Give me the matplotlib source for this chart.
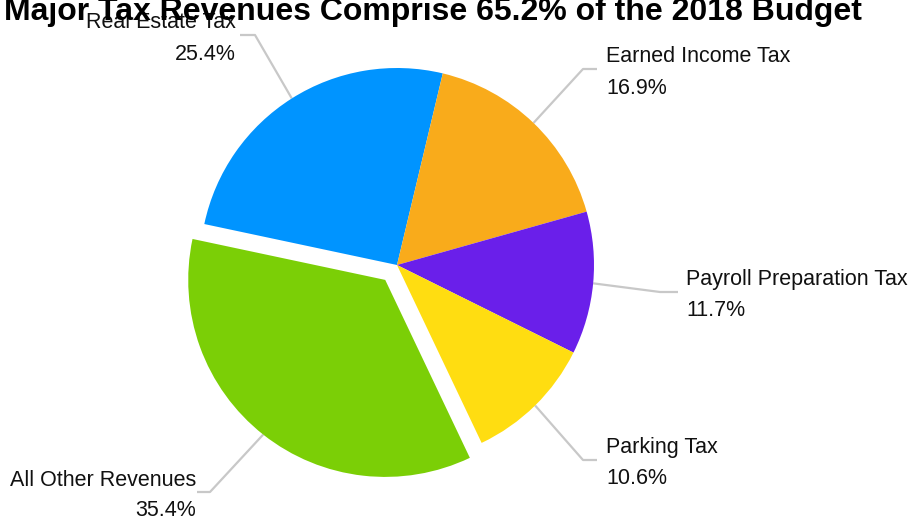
import numpy as np
import matplotlib.pyplot as plt

plt.rcParams['font.family'] = ['Liberation Sans', 'DejaVu Sans']

# 2018 budget revenue shares (%)
labels = ['Real Estate Tax', 'Earned Income Tax', 'Payroll Preparation Tax',
          'Parking Tax', 'All Other Revenues']
shares = [25.4, 16.9, 11.7, 10.6, 35.4]
colors = ['#0094ff', '#f9ab1b', '#6a1fea', '#ffdd11', '#7bcf06']

W, H = 914, 520
R = 197
# explode is an absolute offset in data units (pixels here)
explode = [0, 0, 0, 0, 19]

fig = plt.figure(figsize=(W / 100, H / 100), dpi=100)
ax = fig.add_axes([0, 0, 1, 1])

wedges, _ = ax.pie(shares, colors=colors, explode=explode, startangle=168,
                   counterclock=False, center=(397, H - 265), radius=R,
                   wedgeprops=dict(linewidth=0))
ax.set_xlim(0, W)
ax.set_ylim(0, H)
ax.set_aspect('equal')
ax.axis('off')

# leader elbow / end points and text anchor (pixel coords, y from top)
leaders = [
    ((255, 35), (240, 35), 236, 'right'),
    ((583, 69), (597, 69), 606, 'left'),
    ((660, 292), (678, 292), 686, 'left'),
    ((583, 460), (597, 460), 606, 'left'),
    ((210, 492), (197, 492), 196, 'right'),
]

for w, lab, val, (elbow, end, tx, ha) in zip(wedges, labels, shares, leaders):
    ang = np.deg2rad((w.theta1 + w.theta2) / 2)
    cx, cy = w.center
    sx, sy = cx + w.r * np.cos(ang), cy + w.r * np.sin(ang)
    ax.plot([sx, elbow[0], end[0]], [sy, H - elbow[1], H - end[1]],
            color='#c8c8c8', lw=1.6, solid_capstyle='butt', zorder=0)
    ty = H - end[1]
    ax.text(tx, ty + 12, lab, ha=ha, va='center', fontsize=15.5, color='#111111')
    ax.text(tx, ty - 19, f'{val}%', ha=ha, va='center', fontsize=15.5, color='#111111')

ax.text(433, H - 20, 'Major Tax Revenues Comprise 65.2% of the 2018 Budget',
        ha='center', va='baseline', fontsize=23, fontweight='bold', color='#000000')

fig.savefig('out.png', dpi=100)
